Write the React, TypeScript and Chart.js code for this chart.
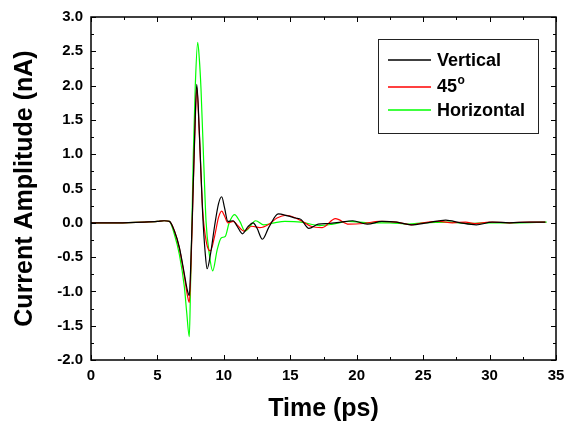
import { useEffect, useRef } from "react";
import { Chart, registerables } from "chart.js";

Chart.register(...registerables);

// ---- Data (time in ps, amplitude in nA) ----
const verticalTime = [0, 2, 4, 5, 5.5, 5.9, 6.28, 6.65, 7.03, 7.25, 7.4, 7.52, 7.65, 7.8, 7.96, 8.15, 8.4, 8.6, 8.74, 9.0, 9.3, 9.6, 9.84, 10.05, 10.3, 10.7, 11.0, 11.4, 11.8, 12.2, 12.5, 12.9, 13.4, 14.1, 14.8, 15.4, 15.8, 16.4, 17.1, 17.9, 18.8, 19.7, 20.8, 21.9, 23.0, 24.1, 25.3, 26.7, 27.8, 29.0, 30.2, 31.5, 33.0, 34.2];
const verticalValues = [0, 0, 0.01, 0.02, 0.03, 0.02, -0.12, -0.36, -0.75, -0.98, -1.06, -0.55, 0.25, 1.25, 2.02, 1.35, 0.15, -0.45, -0.67, -0.45, -0.05, 0.28, 0.38, 0.22, 0.02, 0.03, -0.05, -0.16, -0.06, 0.0, -0.08, -0.24, -0.06, 0.13, 0.1, 0.07, 0.05, -0.08, -0.02, -0.01, 0.01, 0.03, -0.02, 0.02, 0.01, -0.03, 0.0, 0.04, 0.0, -0.03, 0.01, 0.0, 0.01, 0.01];

const diagTime = [0, 2, 4, 5, 5.5, 5.9, 6.28, 6.65, 7.03, 7.25, 7.4, 7.52, 7.65, 7.8, 7.97, 8.15, 8.4, 8.7, 8.98, 9.3, 9.6, 9.84, 10.05, 10.3, 10.7, 11.0, 11.5, 12.1, 12.7, 13.4, 14.0, 14.7, 15.4, 16.0, 16.55, 17.4, 18.4, 19.4, 20.5, 21.7, 23.0, 24.1, 25.0, 26.2, 27.2, 28.2, 28.9, 30.0, 31.5, 33.0, 34.2];
const diagValues = [0, 0, 0.01, 0.02, 0.03, 0.02, -0.12, -0.37, -0.78, -1.05, -1.16, -0.65, 0.2, 1.2, 1.97, 1.3, 0.2, -0.3, -0.41, -0.2, 0.08, 0.17, 0.1, 0.0, 0.02, -0.03, -0.12, -0.05, -0.07, -0.02, 0.07, 0.11, 0.07, 0.01, -0.05, -0.07, 0.06, -0.02, -0.01, 0.02, 0.01, -0.03, 0.0, 0.02, 0.0, 0.01, -0.01, 0.01, 0.0, 0.01, 0.01];

const horizontalTime = [0, 2, 4, 5, 5.5, 5.9, 6.28, 6.65, 7.03, 7.2, 7.4, 7.5, 7.6, 7.7, 7.85, 8.03, 8.15, 8.28, 8.5, 8.66, 8.9, 9.16, 9.5, 9.8, 10.1, 10.4, 10.8, 11.2, 11.6, 12.4, 13.0, 13.8, 14.6, 15.8, 17.2, 18.2, 19.4, 21.0, 22.5, 23.9, 25.0, 27.0, 28.5, 30.0, 32.0, 34.3];
const horizontalValues = [0, 0, 0.01, 0.02, 0.03, 0.02, -0.17, -0.46, -0.94, -1.3, -1.66, -0.85, 0.02, 0.99, 2.0, 2.63, 2.4, 1.95, 0.8, 0.02, -0.45, -0.7, -0.39, -0.22, -0.2, 0.0, 0.12, 0.02, -0.12, 0.03, -0.03, 0.0, 0.02, 0.01, -0.04, -0.02, 0.02, 0.0, 0.0, -0.02, 0.0, 0.01, -0.01, 0.0, 0.0, 0.01];

const seriesLabels = ["Vertical", "45°", "Horizontal"];
const seriesColors = ["#000000", "#ff0000", "#00ff00"];

const xTitle = "Time (ps)";
const yTitle = "Current Amplitude (nA)";
const xMin = 0, xMax = 35, xMajor = 5, xMinor = 2.5;
const yMin = -2, yMax = 3, yMajor = 0.5, yMinor = 0.25;

const FONT = "'Liberation Sans', Arial, sans-serif";

const toPoints = (t: number[], v: number[]) => t.map((x, i) => ({ x, y: v[i] }));

const framePlugin = {
  id: "frame",
  afterDatasetsDraw(chart: any) {
    const { ctx, chartArea: a, scales } = chart;
    const xs = scales.x, ys = scales.y;
    ctx.save();
    ctx.strokeStyle = "#000";
    ctx.lineWidth = 1.5;
    ctx.strokeRect(a.left, a.top, a.right - a.left, a.bottom - a.top);
    ctx.lineWidth = 1;
    ctx.beginPath();
    for (let v = xMin; v <= xMax + 1e-9; v += xMinor) {
      const major = Math.abs(v / xMajor - Math.round(v / xMajor)) < 1e-6;
      const len = major ? 5 : 3;
      const px = Math.round(xs.getPixelForValue(v)) + 0.5;
      ctx.moveTo(px, a.bottom);
      ctx.lineTo(px, a.bottom - len);
      ctx.moveTo(px, a.top);
      ctx.lineTo(px, a.top + len);
    }
    for (let v = yMin; v <= yMax + 1e-9; v += yMinor) {
      const major = Math.abs(v / yMajor - Math.round(v / yMajor)) < 1e-6;
      const len = major ? 5 : 3;
      const py = Math.round(ys.getPixelForValue(v)) + 0.5;
      ctx.moveTo(a.left, py);
      ctx.lineTo(a.left + len, py);
      ctx.moveTo(a.right, py);
      ctx.lineTo(a.right - len, py);
    }
    ctx.stroke();
    ctx.restore();
  },
};

const legendPlugin = {
  id: "boxLegend",
  afterDraw(chart: any) {
    const { ctx, chartArea: a } = chart;
    const left = a.right - 178;
    const top = a.top + 22;
    const w = 160, h = 94;
    const rows = [21, 47.5, 71];
    ctx.save();
    ctx.fillStyle = "#fff";
    ctx.fillRect(left, top, w, h);
    ctx.strokeStyle = "#222";
    ctx.lineWidth = 1;
    ctx.strokeRect(left + 0.5, top + 0.5, w, h);
    seriesLabels.forEach((label, i) => {
      const y = top + rows[i];
      ctx.strokeStyle = seriesColors[i];
      ctx.lineWidth = 1.3;
      ctx.beginPath();
      ctx.moveTo(left + 10, Math.round(y));
      ctx.lineTo(left + 53, Math.round(y));
      ctx.stroke();
      ctx.fillStyle = "#000";
      ctx.textBaseline = "middle";
      ctx.textAlign = "left";
      ctx.font = `bold 18px ${FONT}`;
      const tx = left + 59;
      if (label.endsWith("°")) {
        const base = label.slice(0, -1);
        ctx.fillText(base, tx, y + 1);
        const bw = ctx.measureText(base).width;
        ctx.font = `bold 12px ${FONT}`;
        ctx.fillText("o", tx + bw + 0.5, y - 6);
      } else {
        ctx.fillText(label, tx, y + 1);
      }
    });
    ctx.restore();
  },
};

export default function App() {
  const ref = useRef<HTMLCanvasElement | null>(null);
  useEffect(() => {
    if (!ref.current) return;
    const datasets = [
      toPoints(verticalTime, verticalValues),
      toPoints(diagTime, diagValues),
      toPoints(horizontalTime, horizontalValues),
    ].map((data, i) => ({
      label: seriesLabels[i],
      data,
      borderColor: seriesColors[i],
      backgroundColor: seriesColors[i],
      borderWidth: 1.2,
      pointRadius: 0,
      fill: false,
      cubicInterpolationMode: "monotone" as const,
    }));
    const chart = new Chart(ref.current, {
      type: "line",
      data: { datasets },
      options: {
        animation: false,
        responsive: false,
        events: [],
        layout: { padding: { top: 14, right: 16, left: 0, bottom: 0 } },
        plugins: { legend: { display: false }, tooltip: { enabled: false } },
        scales: {
          x: {
            type: "linear",
            min: xMin,
            max: xMax,
            grid: { display: false, drawTicks: false },
            border: { display: false },
            ticks: {
              stepSize: xMajor,
              color: "#000",
              padding: 7,
              maxRotation: 0,
              font: { family: FONT, size: 15, weight: "bold" },
              callback: (v: any) => String(v),
            },
            title: {
              display: true,
              text: xTitle,
              color: "#000",
              font: { family: FONT, size: 25, weight: "bold" },
              padding: { top: 0, bottom: 1 },
            },
            afterFit: (s: any) => { s.height = 65; },
          },
          y: {
            type: "linear",
            min: yMin,
            max: yMax,
            grid: { display: false, drawTicks: false },
            border: { display: false },
            ticks: {
              stepSize: yMajor,
              color: "#000",
              padding: 8,
              font: { family: FONT, size: 15, weight: "bold" },
              callback: (v: any) => Number(v).toFixed(1),
            },
            title: {
              display: true,
              text: yTitle,
              color: "#000",
              font: { family: FONT, size: 25, weight: "bold" },
              padding: { top: 10, bottom: 0 },
            },
            afterFit: (s: any) => { s.width = 91; },
          },
        },
      },
      plugins: [framePlugin, legendPlugin],
    });
    return () => chart.destroy();
  }, []);
  return (
    <div style={{ position: "absolute", left: 0, top: 0, width: 572, height: 425, background: "#fff" }}>
      <canvas ref={ref} width={572} height={425} />
    </div>
  );
}
